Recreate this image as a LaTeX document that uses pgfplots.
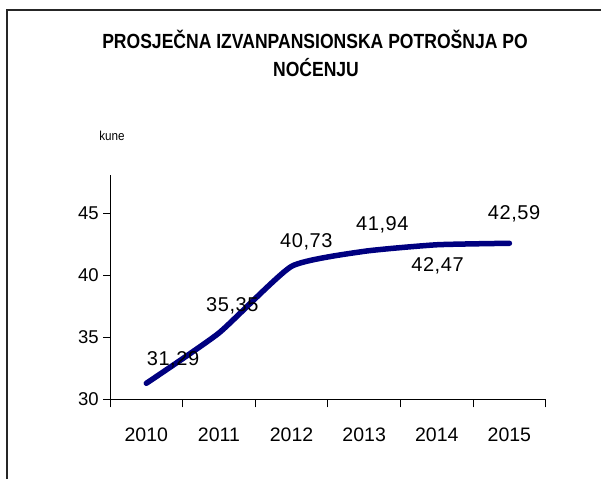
\documentclass[border=0pt]{standalone}
\usepackage{fontspec}
\setmainfont{Liberation Sans}
\usepackage{graphicx}
\usepackage{pgfplots}
\pgfplotsset{compat=1.18}
\definecolor{navy}{RGB}{0,0,128}
\begin{document}
\begin{tikzpicture}[x=1pt,y=1pt]
\path[use as bounding box] (0,0) rectangle (601,479);
\fill[white] (0,0) rectangle (601,479);
\draw[line width=1.3pt, black!85] (7,0) -- (7,469) -- (605,469);
\node at (315,439.3) {\scalebox{0.9}[1.05]{\fontsize{19.5}{23}\selectfont\bfseries PROSJEČNA IZVANPANSIONSKA POTROŠNJA PO}};
\node at (316,411.7) {\scalebox{0.9}[1.05]{\fontsize{19.5}{23}\selectfont\bfseries NOĆENJU}};
\node at (112,343) {\scalebox{0.9}[1]{\fontsize{13}{14}\selectfont kune}};
\begin{axis}[
  at={(110pt,79.7pt)}, anchor=south west,
  scale only axis, width=435.7pt, height=224.3pt,
  xmin=-0.5, xmax=5.5, ymin=30, ymax=48.1,
  axis x line=bottom, axis y line=left,
  axis line style={-, line width=0.8pt, black},
  xtick={0,1,2,3,4,5},
  xticklabels={2010,2011,2012,2013,2014,2015},
  minor xtick={-0.5,0.5,1.5,2.5,3.5,4.5,5.5},
  ytick={30,35,40,45},
  tick align=outside,
  major tick length=6.7pt,
  x tick style={draw=none},
  minor x tick style={draw=black, line width=0.8pt},
  minor tick length=8pt,
  y tick style={black, line width=0.8pt},
  tick label style={font=\fontsize{18.5}{20}\selectfont},
  /pgf/number format/assume math mode=true,
  xticklabel style={yshift=-18pt, font=\fontsize{19.5}{22}\selectfont},
  yticklabel style={xshift=-1pt},
  clip=false,
]
\addplot[navy, line width=5.5pt, smooth, tension=0.3, line cap=round, line join=round] coordinates {
(0,31.29) (1,35.35) (2,40.73) (3,41.94) (4,42.47) (5,42.59)
};
\begin{scope}[every node/.style={font=\fontsize{20}{22}\selectfont\addfontfeature{LetterSpace=3}}]
\node at (axis cs:0.368,33.15) {31,29};
\node at (axis cs:1.185,37.51) {35,35};
\node at (axis cs:2.204,42.71) {40,73};
\node at (axis cs:3.25,44.12) {41,94};
\node at (axis cs:4.01,40.77) {42,47};
\node at (axis cs:5.065,44.93) {42,59};
\end{scope}
\end{axis}
\end{tikzpicture}
\end{document}
